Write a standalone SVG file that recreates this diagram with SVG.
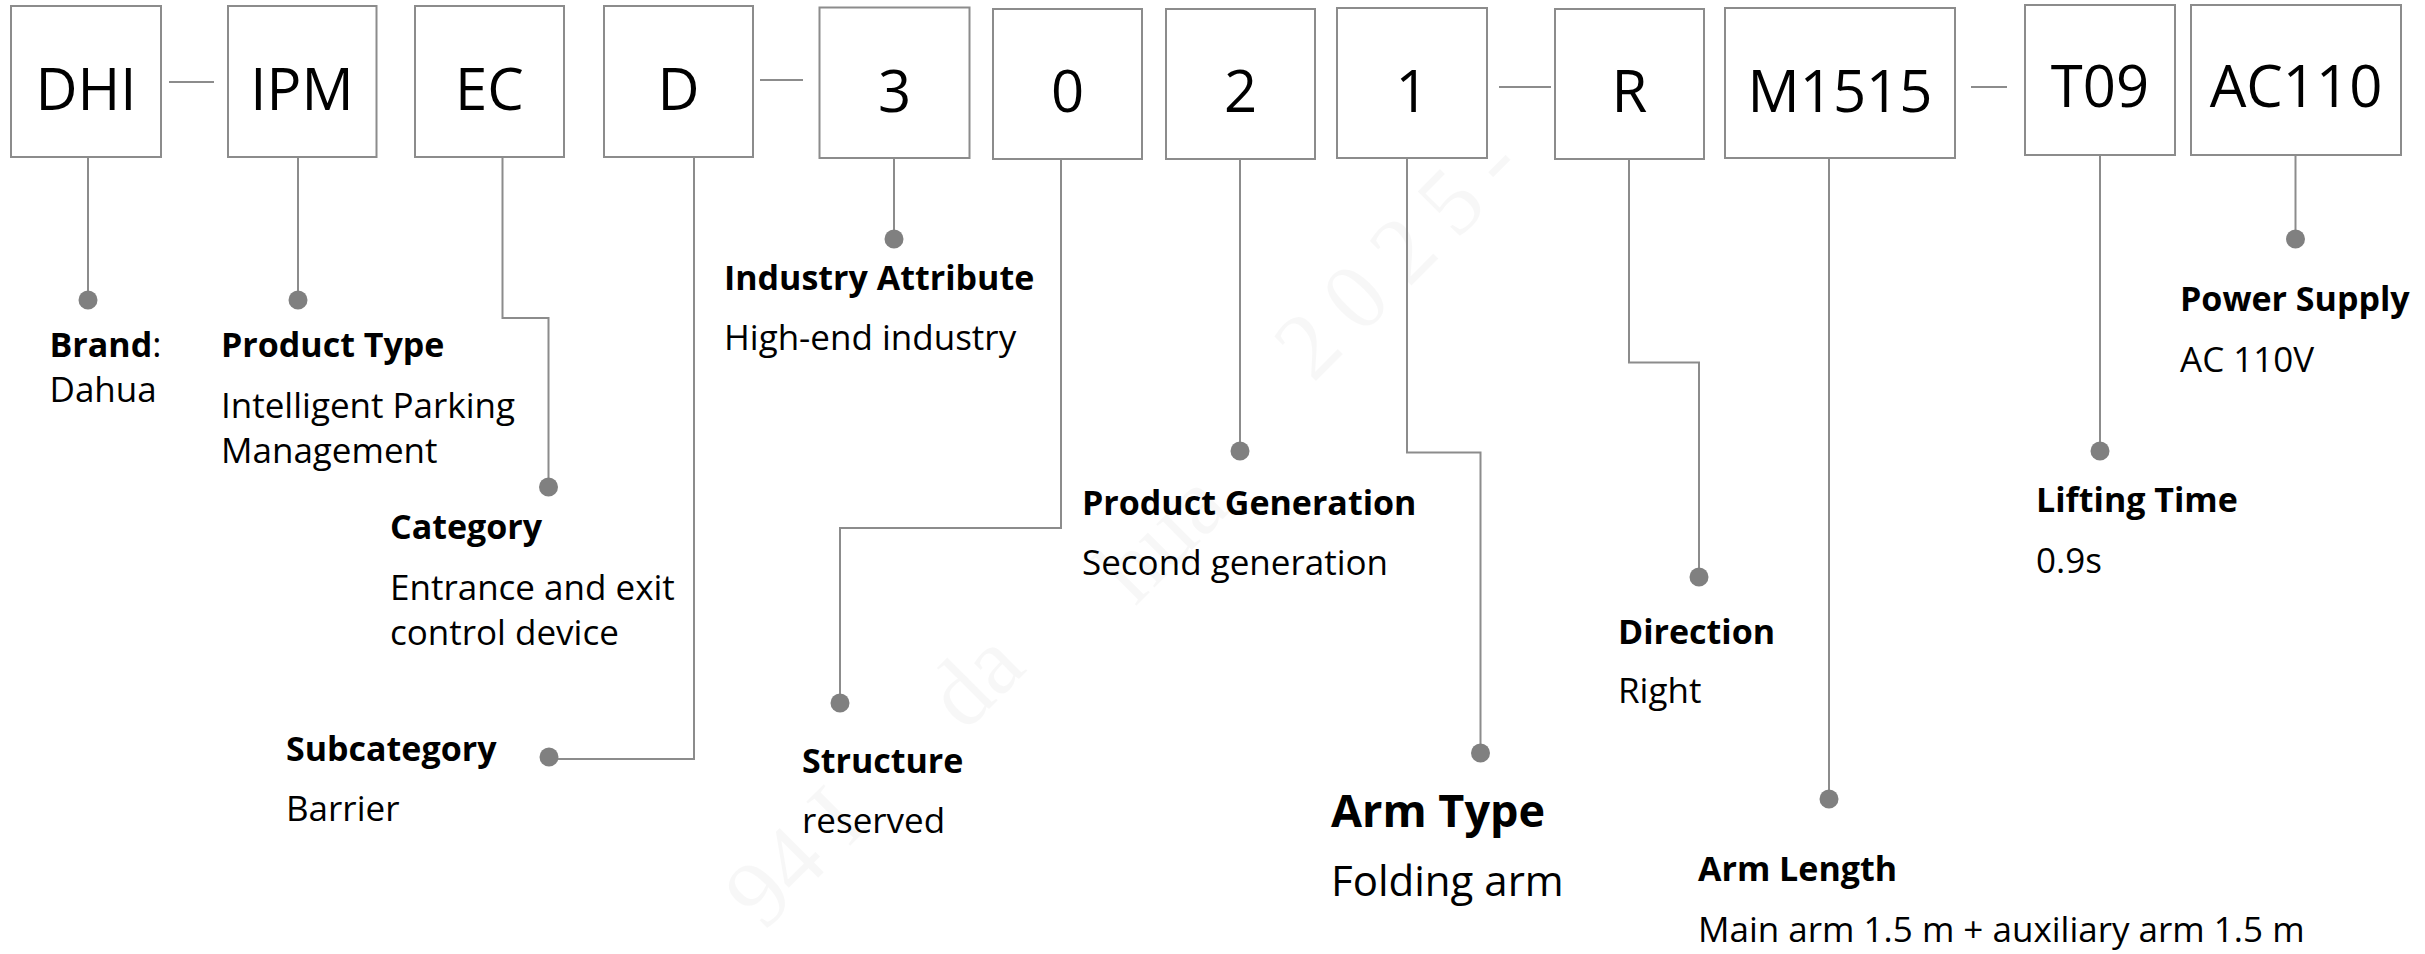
<svg xmlns="http://www.w3.org/2000/svg" width="2425" height="954" viewBox="0 0 2425 954">
<style>
.box{fill:#fff;stroke:#8c8c8c;stroke-width:2}
.code{font-family:"Open Sans","Noto Sans","Liberation Sans",sans-serif;font-size:58px;fill:#000;text-anchor:middle}
.ln{fill:none;stroke:#8c8c8c;stroke-width:2}
.dot{fill:#808080}
.lb{font-family:"Open Sans","Noto Sans","Liberation Sans",sans-serif;font-size:34px;font-weight:700;fill:#000}
.vl{font-family:"Open Sans","Noto Sans","Liberation Sans",sans-serif;font-size:35px;fill:#000}
.wm{font-family:"Liberation Serif",serif;font-size:95px;fill:#000;fill-opacity:0.03}
</style>
<rect width="2425" height="954" fill="#fff"/>
<g id="watermark">
<text class="wm" x="870" y="826" text-anchor="end" transform="rotate(-45 870 826)">94 I</text>
<text class="wm" x="965" y="733" transform="rotate(-45 965 733)">da</text>
<text class="wm" x="1135" y="607" transform="rotate(-45 1135 607)">hua</text>
<text class="wm" x="1313" y="384" letter-spacing="20" transform="rotate(-45 1313 384)">2025-</text>
</g>
<g id="connectors">
<path class="ln" d="M169 82H214"/>
<path class="ln" d="M760 80H803"/>
<path class="ln" d="M1499 87H1551"/>
<path class="ln" d="M1971 87H2007"/>
<path class="ln" d="M88 157V300"/>
<path class="ln" d="M298 157V300"/>
<path class="ln" d="M502.5 157V318H548.5V487"/>
<path class="ln" d="M694 157V759H549"/>
<path class="ln" d="M894 158V239"/>
<path class="ln" d="M1061 159V528H840V703"/>
<path class="ln" d="M1240 159V451"/>
<path class="ln" d="M1407 158V452.5H1480.5V753"/>
<path class="ln" d="M1629 159V362.5H1699V577"/>
<path class="ln" d="M1829 158V799"/>
<path class="ln" d="M2100 155V451"/>
<path class="ln" d="M2295.5 155V239"/>
</g>
<g id="node-DHI"><rect class="box" x="11" y="6" width="150" height="151"/><text class="code" x="86" y="110">DHI</text><circle class="dot" cx="88" cy="300" r="9.5"/>
<text x="49.5" y="357"><tspan class="lb">Brand</tspan><tspan class="vl">:</tspan></text><text class="vl" x="49.5" y="402">Dahua</text></g>
<g id="node-IPM"><rect class="box" x="228" y="6" width="148.5" height="151"/><text class="code" x="302" y="110">IPM</text><circle class="dot" cx="298" cy="300" r="9.5"/>
<text class="lb" x="221" y="357">Product Type</text><text class="vl" x="221" y="418">Intelligent Parking</text><text class="vl" x="221" y="463">Management</text></g>
<g id="node-EC"><rect class="box" x="415" y="6" width="149" height="151"/><text class="code" x="489.5" y="110">EC</text><circle class="dot" cx="548.5" cy="487" r="9.5"/>
<text class="lb" x="390" y="539">Category</text><text class="vl" x="390" y="600">Entrance and exit</text><text class="vl" x="390" y="645">control device</text></g>
<g id="node-D"><rect class="box" x="604" y="6" width="149" height="151"/><text class="code" x="678.5" y="110">D</text><circle class="dot" cx="549" cy="757" r="9.5"/>
<text class="lb" x="286" y="761">Subcategory</text><text class="vl" x="286" y="821">Barrier</text></g>
<g id="node-3"><rect class="box" x="819.5" y="7.5" width="150" height="150.5"/><text class="code" x="894.5" y="112">3</text><circle class="dot" cx="894" cy="239" r="9.5"/>
<text class="lb" x="724" y="290">Industry Attribute</text><text class="vl" x="724" y="350">High-end industry</text></g>
<g id="node-0"><rect class="box" x="993" y="9" width="149" height="150"/><text class="code" x="1067.5" y="112">0</text><circle class="dot" cx="840" cy="703" r="9.5"/>
<text class="lb" x="802" y="773">Structure</text><text class="vl" x="802" y="833">reserved</text></g>
<g id="node-2"><rect class="box" x="1166" y="9" width="149" height="150"/><text class="code" x="1240.5" y="112">2</text><circle class="dot" cx="1240" cy="451" r="9.5"/>
<text class="lb" x="1082" y="515">Product Generation</text><text class="vl" x="1082" y="575">Second generation</text></g>
<g id="node-1"><rect class="box" x="1337" y="8" width="150" height="150"/><text class="code" x="1412" y="112">1</text><circle class="dot" cx="1480.5" cy="753" r="9.5"/>
<text class="lb" x="1331" y="827" style="font-size:45px">Arm Type</text><text class="vl" x="1331" y="896" style="font-size:42px">Folding arm</text></g>
<g id="node-R"><rect class="box" x="1555" y="9" width="149" height="150"/><text class="code" x="1629.5" y="112">R</text><circle class="dot" cx="1699" cy="577" r="9.5"/>
<text class="lb" x="1618" y="644">Direction</text><text class="vl" x="1618" y="703">Right</text></g>
<g id="node-M1515"><rect class="box" x="1725" y="8" width="230" height="150"/><text class="code" x="1840" y="112">M1515</text><circle class="dot" cx="1829" cy="799" r="9.5"/>
<text class="lb" x="1698" y="881">Arm Length</text><text class="vl" x="1698" y="942">Main arm 1.5 m + auxiliary arm 1.5 m</text></g>
<g id="node-T09"><rect class="box" x="2025" y="5" width="150" height="150"/><text class="code" x="2100" y="107">T09</text><circle class="dot" cx="2100" cy="451" r="9.5"/>
<text class="lb" x="2036" y="512">Lifting Time</text><text class="vl" x="2036" y="573">0.9s</text></g>
<g id="node-AC110"><rect class="box" x="2191" y="5" width="210" height="150"/><text class="code" x="2296" y="107">AC110</text><circle class="dot" cx="2295.5" cy="239" r="9.5"/>
<text class="lb" x="2180" y="311">Power Supply</text><text class="vl" x="2180" y="372">AC 110V</text></g>
</svg>
